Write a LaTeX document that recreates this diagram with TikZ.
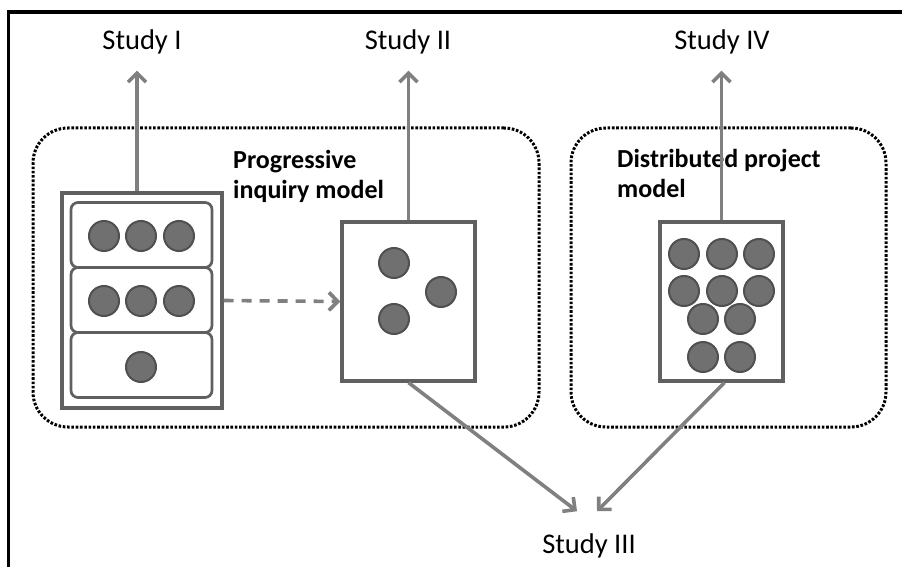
\documentclass[tikz,border=0pt]{standalone}
\usepackage{fontspec}
\setmainfont{Carlito}
\usepackage{tikz}
\usetikzlibrary{arrows.meta}
\usetikzlibrary{positioning}

\definecolor{arrgray}{RGB}{128,128,128}
\definecolor{boxgray}{RGB}{96,96,96}
\definecolor{ballfill}{RGB}{112,112,112}
\definecolor{ballline}{RGB}{80,80,80}

\begin{document}
\begin{tikzpicture}[x=1pt,y=-1pt,
		study/.style={font=\fontsize{28.5}{30}\selectfont, inner sep=0pt, outer sep=16pt, anchor=base},
		modellabel/.style={font=\fontsize{26}{30}\selectfont\bfseries, align=left, inner sep=0pt, anchor=north west},
		modelarea/.style={draw=black, line width=3pt, dash pattern=on 2.6pt off 1.7pt, rounded corners=35pt, minimum width=#1, minimum height=299pt, inner sep=0pt},
		casebox/.style={draw=boxgray, fill=white, line width=3.2pt, inner sep=0pt},
		phase/.style={draw=boxgray, line width=2.7pt, rounded corners=7pt, minimum width=141pt, minimum height=65pt, inner sep=0pt},
		ball/.style={circle, fill=ballfill, draw=ballline, line width=2pt, minimum size=30pt, inner sep=0pt},
		arr/.style={draw=arrgray, line width=3.6pt, -{Straight Barb[length=9pt,width=18pt]}}
	]
	\useasboundingbox (0,0) rectangle (902,567);

	% frame
	\draw[line width=3.8pt] (8.5,567) -- (8.5,12) -- (902,12);

	% the two models
	\node[modelarea=506pt] (pim) at (286,277.5) {};
	\node[modelarea=315pt] (dpm) at (728.5,277.5) {};
	\node[modellabel] (pimtext) at (233,150) {Progressive\\inquiry model};
	\node[modellabel] (dpmtext) at (617,149) {Distributed project\\model};

	% studies
	\node[study] (s1) at (142,50) {Study I};
	\node[study] (s2) at (408,50) {Study II};
	\node[study] (s4) at (722,50) {Study IV};
	\node[study, outer sep=22pt] (s3) at (589,553) {Study III};

	% inquiry phases
	\node[casebox, minimum width=160pt, minimum height=215pt] (inq) at (142,300.5) {};
	\node[phase] (ph1) at (141.5,235) {};
	\node[phase] (ph2) at (141.5,300) {};
	\node[phase] (ph3) at (141.5,365) {};
	\foreach \x in {104,141,179} {
		\node[ball] (a\x) at (\x,236) {};
		\node[ball] (b\x) at (\x,301) {};
	}
	\node[ball] (c141) at (141,367) {};

	% knowledge building case
	\node[casebox, minimum width=133pt, minimum height=159pt] (kb) at (408.5,301.5) {};
	\node[ball] (k1) at (394,263) {};
	\node[ball] (k2) at (441,292) {};
	\node[ball] (k3) at (394,319) {};

	% project case
	\node[casebox, minimum width=123pt, minimum height=159pt] (dp) at (721.5,301.5) {};
	\foreach \x in {684,722,759} {
		\node[ball] (p\x) at (\x,254) {};
		\node[ball] (q\x) at (\x,291) {};
	}
	\foreach \x in {703,740} {
		\node[ball] (r\x) at (\x,319) {};
		\node[ball] (t\x) at (\x,357) {};
	}

	% connectors
	\draw[arr] ([xshift=-5pt]inq.north) -- ([xshift=-5pt]inq.north |- s1.south);
	\draw[arr] (kb.north) -- (kb.north |- s2.south);
	\draw[arr] (dp.north) -- (dp.north |- s4.south);
	\draw[arr, dash pattern=on 10pt off 8pt] (inq.east) -- (kb.west);
	\draw[arr] (kb.south) -- ([xshift=-12pt]s3.north);
	\draw[arr] ([xshift=3pt]dp.south) -- ([xshift=8pt]s3.north);
\end{tikzpicture}
\end{document}
